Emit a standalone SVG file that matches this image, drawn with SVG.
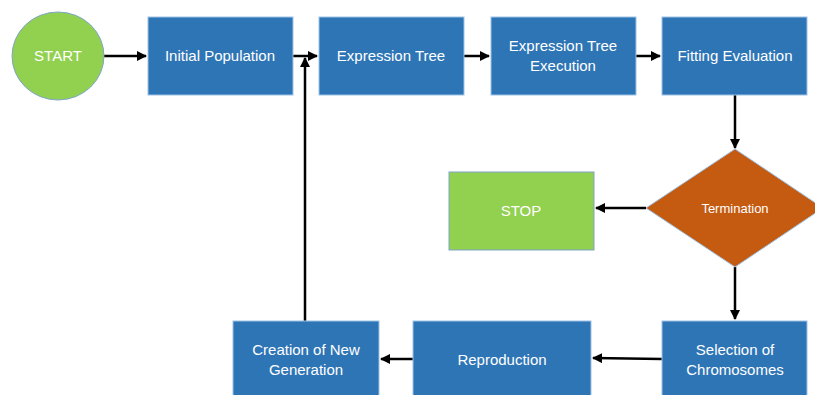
<svg xmlns="http://www.w3.org/2000/svg" width="815" height="395" viewBox="0 0 815 395">
<style>
.b{fill:#2E75B6;stroke:#9DC3E6;stroke-width:1}
.g{fill:#92D050;stroke:#7FA5C8;stroke-width:1}
.o{fill:#C55A11;stroke:#9DC3E6;stroke-width:1}
text{font-family:"Liberation Sans",Arial,sans-serif;font-size:15px;fill:#fff;text-anchor:middle}
.c line{stroke:#000;stroke-width:2.5;fill:none;marker-end:url(#a)}
</style>
<defs>
<marker id="a" viewBox="0 0 10 10" refX="9" refY="5" markerWidth="4" markerHeight="4" orient="auto" markerUnits="strokeWidth">
<path d="M0,0 L10,5 L0,10 z" fill="#000"/>
</marker>
</defs>
<rect width="815" height="395" fill="#fff"/>
<g class="c">
<line x1="104" y1="56" x2="146" y2="56"/>
<line x1="293" y1="56" x2="317" y2="56"/>
<line x1="305" y1="321" x2="305" y2="58"/>
<line x1="464" y1="56" x2="489" y2="56"/>
<line x1="636" y1="56" x2="660" y2="56"/>
<line x1="735" y1="95" x2="735" y2="148"/>
<line x1="646" y1="208" x2="596" y2="208"/>
<line x1="735" y1="267" x2="735" y2="319"/>
<line x1="662" y1="359" x2="593" y2="358"/>
<line x1="413" y1="359" x2="381" y2="359"/>
</g>
<g id="start"><ellipse class="g" cx="58" cy="56" rx="46" ry="44"/><text x="58" y="61">START</text></g>
<g id="initial"><rect class="b" x="148" y="17" width="145" height="78"/><text x="220" y="61">Initial Population</text></g>
<g id="expr"><rect class="b" x="319" y="17" width="145" height="78"/><text x="391" y="61">Expression Tree</text></g>
<g id="exec"><rect class="b" x="491" y="17" width="145" height="78"/><text x="563" y="51">Expression Tree</text><text x="563" y="71">Execution</text></g>
<g id="fit"><rect class="b" x="662" y="17" width="145" height="78"/><text x="735" y="61">Fitting Evaluation</text></g>
<g id="term"><polygon class="o" points="735,149 823,208 735,267 646,208"/><text x="735" y="213" style="font-size:13px">Termination</text></g>
<g id="stop"><rect class="g" x="449" y="172" width="145" height="78"/><text x="521" y="216">STOP</text></g>
<g id="select"><rect class="b" x="662" y="321" width="145" height="78"/><text x="735" y="355">Selection of</text><text x="735" y="375">Chromosomes</text></g>
<g id="repro"><rect class="b" x="413" y="321" width="178" height="78"/><text x="502" y="365">Reproduction</text></g>
<g id="creation"><rect class="b" x="233" y="321" width="146" height="78"/><text x="306" y="355">Creation of New</text><text x="306" y="375">Generation</text></g>
</svg>
